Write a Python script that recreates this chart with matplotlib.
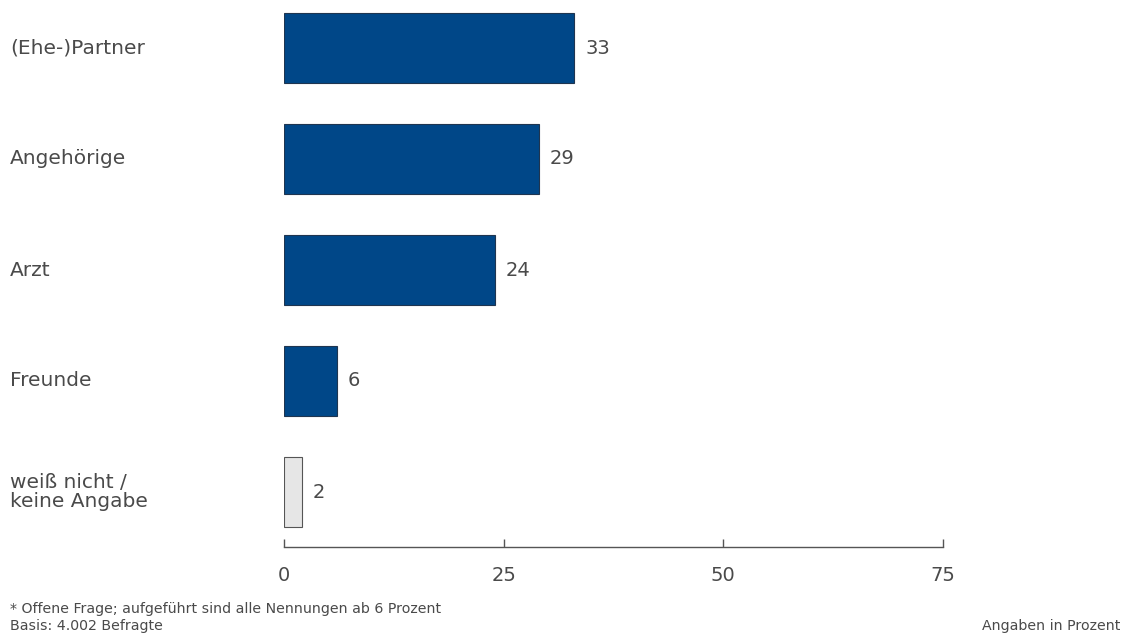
import matplotlib.pyplot as plt

# Daten
kategorien = ["(Ehe-)Partner", "Angehörige", "Arzt", "Freunde", "weiß nicht /\nkeine Angabe"]
werte = [33, 29, 24, 6, 2]
farben = ["#004788", "#004788", "#004788", "#004788", "#e6e6e6"]
kanten = ["#1f3550", "#1f3550", "#1f3550", "#1f3550", "#555555"]
x_ticks = [0, 25, 50, 75]

text_col = "#4a4a4a"
plt.rcParams['font.family'] = ['DejaVu Sans']

fig = plt.figure(figsize=(11.26, 6.36), dpi=100)
# achse: x=0 bei 284px, x=75 bei 943px, spine bei 547px
ax = fig.add_axes([284 / 1126, 1 - 547 / 636, (943 - 284) / 1126, 547 / 636])

pos = list(range(len(kategorien)))
ax.barh(pos, werte, height=0.63, color=farben, edgecolor=kanten, linewidth=0.8)

for p, w in zip(pos, werte):
    ax.annotate(str(w), (w, p), xytext=(8, 0), textcoords="offset points",
                va="center", ha="left", fontsize=14, color=text_col)

for p, k in zip(pos, kategorien):
    ax.text(-274 / 659 * 75, p, k, fontsize=14.5, color=text_col, va="center", ha="left",
            linespacing=0.95)

ax.set_xlim(0, 75)
ax.set_ylim((547 - 48) / 111, -48 / 111)

ax.set_yticks([])
ax.set_xticks(x_ticks)
ax.set_xticklabels([str(t) for t in x_ticks])
ax.tick_params(axis="x", direction="in", length=6, width=1, colors="#555555",
               labelcolor=text_col, labelsize=14, pad=14)
for s in ["top", "right", "left"]:
    ax.spines[s].set_visible(False)
ax.spines["bottom"].set_color("#555555")
ax.spines["bottom"].set_linewidth(1)
ax.patch.set_visible(False)

fig.text(10 / 1126, 1 - 609 / 636, "* Offene Frage; aufgeführt sind alle Nennungen ab 6 Prozent",
         fontsize=10.2, color=text_col, va="center", ha="left")
fig.text(10 / 1126, 1 - 626 / 636, "Basis: 4.002 Befragte",
         fontsize=10.2, color=text_col, va="center", ha="left")
fig.text(1 - 6 / 1126, 1 - 626 / 636, "Angaben in Prozent",
         fontsize=10.2, color=text_col, va="center", ha="right")

fig.savefig("out.png", dpi=100)
